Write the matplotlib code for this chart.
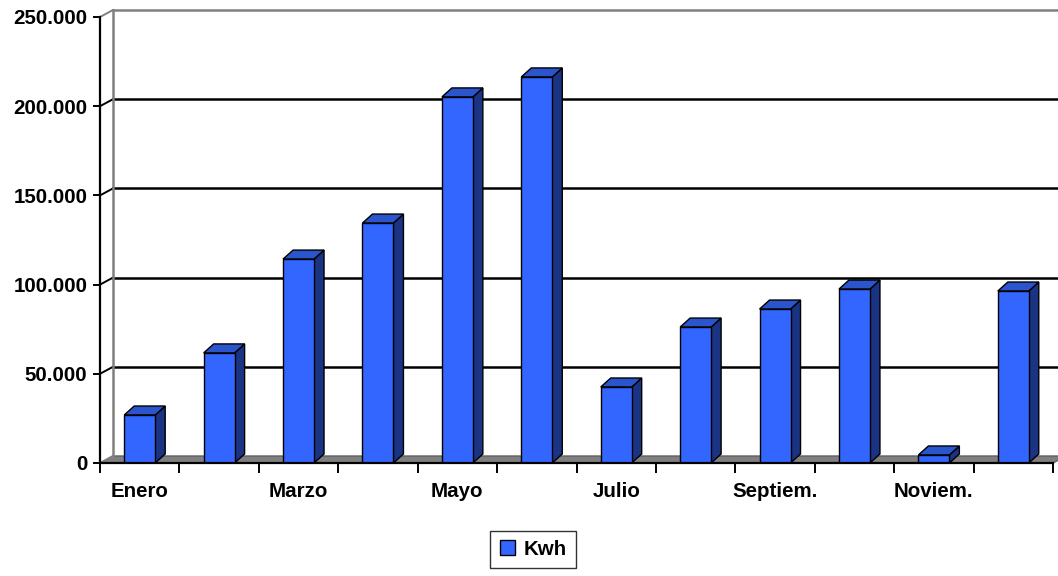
import numpy as np
import matplotlib.pyplot as plt
from matplotlib.patches import Polygon, Patch

meses = ['Enero', 'Febrero', 'Marzo', 'Abril', 'Mayo', 'Junio', 'Julio',
         'Agosto', 'Septiem.', 'Octubre', 'Noviem.', 'Diciem.']
kwh = [26900, 61700, 114300, 134500, 205200, 216400, 42600,
       76200, 86300, 97500, 4500, 96400]
yticks = [0, 50000, 100000, 150000, 200000, 250000]

plt.rcParams['font.family'] = ['Liberation Sans', 'DejaVu Sans']
plt.rcParams['font.weight'] = 'bold'

fig = plt.figure(figsize=(10.58, 5.76), dpi=100)
W, H = 1058, 576
ax = fig.add_axes([100 / W, (576 - 463) / H, 953 / W, 446 / H])
n = len(meses)
ax.set_xlim(-0.5, n - 0.5)
ax.set_ylim(0, 250000)

# conversión píxel -> datos
px_x = n / 953.0
px_y = 250000 / 446.0
wall_dx, wall_dy = 13 * px_x, 7 * px_y
bar_dx, bar_dy = 10 * px_x, 9 * px_y
ancho = 0.39
fs = 14.8

# suelo gris
x0, x1 = -0.5, n - 0.5
ax.add_patch(Polygon([(x0, 0), (x1, 0), (x1 + wall_dx, wall_dy), (x0 + wall_dx, wall_dy)],
                     closed=True, facecolor='#808080', edgecolor='#606060', lw=1,
                     clip_on=False, zorder=1))

# pared del fondo y rejilla
for y in yticks[1:]:
    col = '#808080' if y == yticks[-1] else 'black'
    ax.plot([x0 + wall_dx, x1 + wall_dx], [y + wall_dy, y + wall_dy], color=col,
            lw=1.8, clip_on=False, zorder=2)
for y in yticks:
    col = 'black' if 0 < y < yticks[-1] else '#808080'
    ax.plot([x0, x0 + wall_dx], [y, y + wall_dy], color=col, lw=1.4,
            clip_on=False, zorder=2)
ax.plot([x0 + wall_dx, x0 + wall_dx], [wall_dy, yticks[-1] + wall_dy], color='#808080',
        lw=1.8, clip_on=False, zorder=2)

# barras 3D
xs = np.arange(n)
ax.bar(xs, kwh, width=ancho, color='#3366FF', edgecolor='black', linewidth=1, zorder=5)
for x, v in zip(xs, kwh):
    r = x + ancho / 2
    l = x - ancho / 2
    ax.add_patch(Polygon([(r, 0), (r + bar_dx, bar_dy), (r + bar_dx, v + bar_dy), (r, v)],
                         closed=True, facecolor='#1B3383', edgecolor='black', lw=1,
                         zorder=4, clip_on=False))
    ax.add_patch(Polygon([(l, v), (r, v), (r + bar_dx, v + bar_dy), (l + bar_dx, v + bar_dy)],
                         closed=True, facecolor='#2A55CC', edgecolor='black', lw=1,
                         zorder=4, clip_on=False))

# ejes
for s in ['top', 'right']:
    ax.spines[s].set_visible(False)
for s in ['left', 'bottom']:
    ax.spines[s].set_linewidth(1.6)
    ax.spines[s].set_zorder(6)

ax.set_yticks(yticks)
ax.set_yticklabels([f'{y:,}'.replace(',', '.') for y in yticks], fontsize=fs, fontweight='bold')
ax.tick_params(axis='y', length=5, width=1.4, pad=4)

ax.set_xticks(np.arange(n + 1) - 0.5)
ax.set_xticklabels([])
ax.tick_params(axis='x', which='major', length=7, width=1.4)
ax.set_xticks(xs, minor=True)
ax.set_xticklabels([m if i % 2 == 0 else '' for i, m in enumerate(meses)], minor=True,
                   fontsize=fs, fontweight='bold')
ax.tick_params(axis='x', which='minor', length=0, pad=14)

fig.legend(handles=[Patch(facecolor='#3366FF', edgecolor='black', label='Kwh')],
           loc='center', bbox_to_anchor=(533 / W, 1 - 549.5 / H), frameon=True,
           fancybox=False, edgecolor='black', handlelength=0.75, handleheight=0.75,
           handletextpad=0.4, borderpad=0.45, prop={'size': fs, 'weight': 'bold'})

fig.savefig('out.png', dpi=100)
